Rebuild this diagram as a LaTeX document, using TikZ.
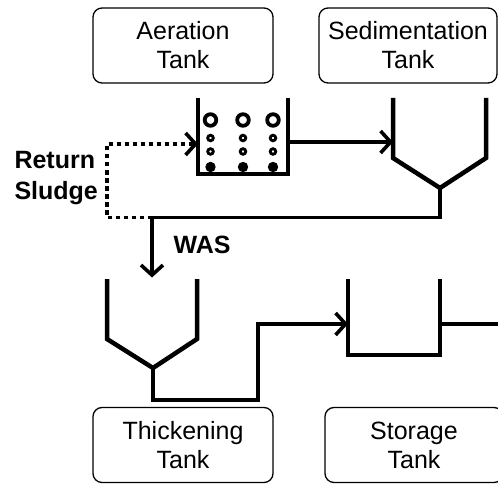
\documentclass[tikz,border=0pt]{standalone}
\usepackage{fontspec}
\setmainfont{Liberation Sans}
\usetikzlibrary{arrows.meta,positioning,calc}

\tikzset{
  tankbox/.style={draw, rounded corners=9pt, line width=1.3pt, minimum height=75pt, align=center, inner sep=0pt, font=\fontsize{25}{29}\selectfont},
  wall/.style={line width=4.5pt},
  pipe/.style={line width=3.6pt},
  flow/.style={pipe, -{Straight Barb[length=10pt,width=22pt,line width=3.6pt]}},
  ret/.style={flow, dash pattern=on 4.5pt off 3.5pt},
  lbl/.style={font=\fontsize{25}{31}\selectfont\bfseries, align=left}
}

\begin{document}
\begin{tikzpicture}[x=1pt,y=-1pt]
\useasboundingbox (0,0) rectangle (498,484);
% boxes
\node[tankbox, minimum width=180pt] (aer) at (183,45.5) {Aeration\\Tank};
\node[tankbox, minimum width=178pt] (sed) at (408,45.5) {Sedimentation\\Tank};
\node[tankbox, minimum width=180pt] (thi) at (183,445) {Thickening\\Tank};
\node[tankbox, minimum width=178pt] (sto) at (414,445) {Storage\\Tank};
% aeration tank with bubbles
\foreach \x in {210.5,243,273} {
  \draw[line width=3.8pt] (\x,120) circle (5.8pt);
  \draw[line width=2.8pt] (\x,138) circle (2.8pt) (\x,151.5) circle (2.8pt);
  \fill (\x,167) circle (5.2pt);
}
\draw[wall] (198,98) coordinate(aL) -- ++(0,76) -- ++(90,0) coordinate(aB) -- ++(0,-76);
\coordinate (aIn) at (198,144);
\coordinate (aOut) at (288,142);
% sedimentation tank
\draw[wall] (393,98) -- ++(0,60) -- ++(47,30) coordinate(sOut) -- ++(46,-30) -- ++(0,-60);
\coordinate (sIn) at (393,142);
\draw[flow] (aOut) -- (sIn);
\draw[pipe] (sOut) -- ++(0,29.5) -- (152,217.5) coordinate(split);
\draw[ret] (split) -- (107,217.5) -- (107,144) -- (aIn);
\node[lbl, anchor=west] (rs) at (11,178) {Return\\Sludge};
% WAS to thickening
\draw[flow] (split) -- ++(0,60) coordinate(tIn);
\node[lbl, anchor=west] (was) at (170,245) {WAS};
\draw[wall] (107,279) -- ++(0,60) -- ++(46,29) coordinate(tOut) -- ++(44,-29) -- ++(0,-60);
% storage tank
\draw[wall] (348,279) coordinate(stL) -- ++(0,76) -- ++(92,0) -- ++(0,-76);
\coordinate (stIn) at (348,324);
\coordinate (stOut) at (440,324);
\draw[flow] (tOut) -- ++(0,32) -- (258,400) -- (258,324) -- (stIn);
\draw[pipe] (stOut) -- ++(60,0);
\end{tikzpicture}
\end{document}
